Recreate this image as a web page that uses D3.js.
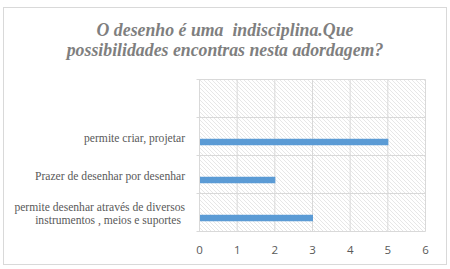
<!DOCTYPE html>
<html>
<head>
<meta charset="utf-8">
<script src="https://cdn.jsdelivr.net/npm/d3@7"></script>
</head>
<body style="margin:0">
<svg id="chart" width="450" height="269"></svg>
<script>
// chart data, top to bottom (top category is empty)
const categories = ["", "permite criar, projetar", "Prazer de desenhar por desenhar",
  "permite desenhar através de diversos\ninstrumentos , meios e suportes"];
const values = [null, 5, 2, 3];
const xTicks = [0, 1, 2, 3, 4, 5, 6];
const titleLines = ["O desenho é uma  indisciplina.Que", "possibilidades encontras nesta adordagem?"];

// plot area
const plot = { left: 199.5, right: 425.5, top: 79.5, bottom: 231.5 };

const svg = d3.select("#chart");

// outer chart border
svg.append("rect")
  .attr("x", 3.5).attr("y", 7.5)
  .attr("width", 443).attr("height", 257)
  .attr("fill", "#fff")
  .attr("stroke", "#d9d9d9");

// hatch pattern for plot area
const defs = svg.append("defs");
defs.append("pattern")
  .attr("id", "hatch")
  .attr("patternUnits", "userSpaceOnUse")
  .attr("width", 4).attr("height", 4)
  .append("path")
  .attr("d", "M-1,-1 L5,5 M-1,3 L1,5 M3,-1 L5,1")
  .attr("stroke", "#dcdcdc")
  .attr("stroke-width", 0.7);

// title, one text per line
svg.selectAll(".title")
  .data(titleLines)
  .join("text")
  .attr("class", "title")
  .attr("x", 225)
  .attr("y", (d, i) => 36 + i * 20)
  .attr("font-family", "Liberation Serif")
  .attr("font-size", 17.8)
  .attr("font-weight", "bold")
  .attr("font-style", "italic")
  .attr("text-anchor", "middle")
  .attr("fill", "#7f7f7f")
  .attr("xml:space", "preserve")
  .text(d => d);

// scales
const x = d3.scaleLinear().domain([0, 6]).range([plot.left, plot.right]);
const y = d3.scaleBand().domain(categories).range([plot.top, plot.bottom]);

// hatched background
svg.append("rect")
  .attr("x", plot.left).attr("y", plot.top)
  .attr("width", plot.right - plot.left).attr("height", plot.bottom - plot.top)
  .attr("fill", "url(#hatch)");

// vertical grid lines
svg.append("g")
  .selectAll("line")
  .data(xTicks)
  .join("line")
  .attr("x1", d => x(d)).attr("x2", d => x(d))
  .attr("y1", plot.top).attr("y2", plot.bottom)
  .attr("stroke", "#d9d9d9");

// horizontal band lines + small ticks on left
const bandEdges = categories.map(c => y(c)).concat([plot.bottom]);
svg.append("g")
  .selectAll("line")
  .data(bandEdges)
  .join("line")
  .attr("x1", plot.left - 3).attr("x2", plot.right)
  .attr("y1", d => d).attr("y2", d => d)
  .attr("stroke", "#d9d9d9");

// bars (sit in the lower part of each band, like an Excel cluster)
const barH = 6.5;
svg.append("g")
  .selectAll("rect")
  .data(categories.map((c, i) => ({ c, v: values[i] })).filter(d => d.v != null))
  .join("rect")
  .attr("x", x(0) + 0.5)
  .attr("y", d => y(d.c) + y.bandwidth() * 0.645 - barH / 2)
  .attr("width", d => x(d.v) - x(0))
  .attr("height", barH)
  .attr("fill", "#5b9bd5");

// category labels, one text per line
const labelLines = [];
categories.forEach(c => {
  if (!c) return;
  const lines = c.split("\n");
  const cy = y(c) + y.bandwidth() / 2 + 1;
  lines.forEach((ln, i) => labelLines.push({
    text: ln,
    x: lines.length > 1 && i > 0 ? 181 : 185,
    y: cy + (i - (lines.length - 1) / 2) * 12.5 + 4
  }));
});
svg.selectAll(".cat")
  .data(labelLines)
  .join("text")
  .attr("class", "cat")
  .attr("x", d => d.x)
  .attr("y", d => d.y)
  .attr("font-family", "Liberation Serif")
  .attr("font-size", 11.6)
  .attr("text-anchor", "end")
  .attr("fill", "#595959")
  .text(d => d.text);

// x tick labels
svg.selectAll(".tick")
  .data(xTicks)
  .join("text")
  .attr("class", "tick")
  .attr("x", d => x(d))
  .attr("y", 254)
  .attr("font-family", "Open Sans")
  .attr("font-size", 11.5)
  .attr("text-anchor", "middle")
  .attr("fill", "#595959")
  .text(d => d);
</script>
</body>
</html>
